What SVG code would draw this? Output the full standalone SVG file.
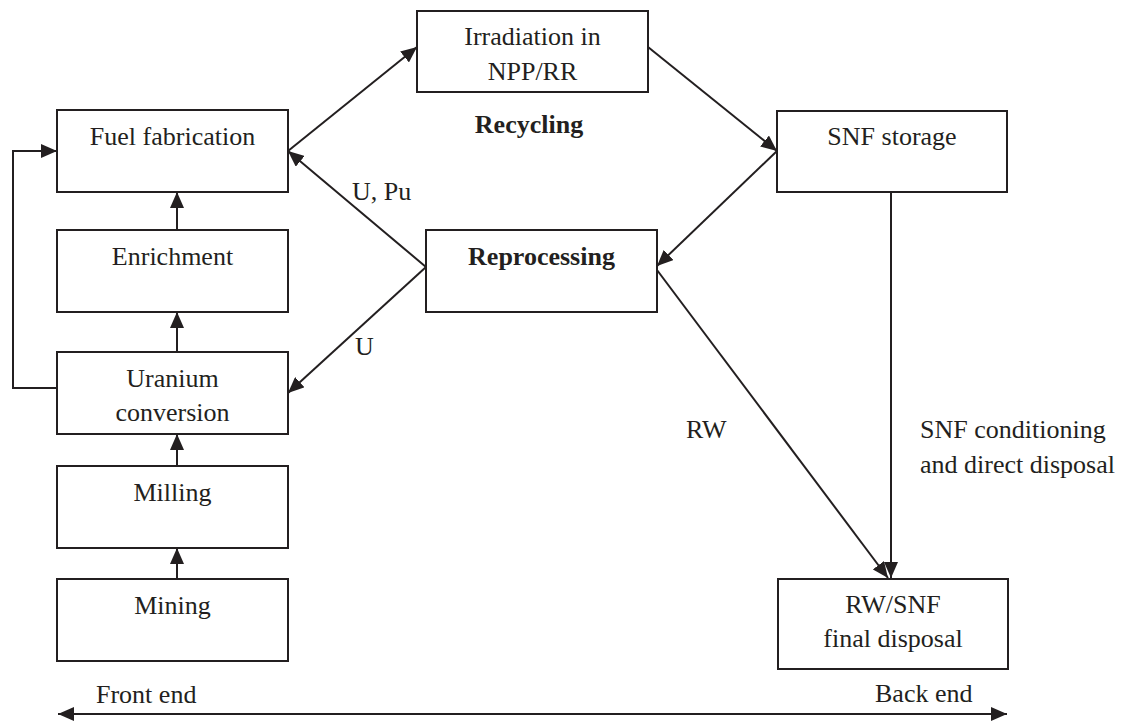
<svg xmlns="http://www.w3.org/2000/svg" width="1121" height="722" viewBox="0 0 1121 722">
<style>
.box{fill:#fff;stroke:#231f20;stroke-width:2}
.t{font-family:"Liberation Serif","Times New Roman",serif;font-size:26px;fill:#231f20;text-anchor:middle}
.b{font-weight:bold}
.l{text-anchor:start}
.c{fill:none;stroke:#231f20;stroke-width:2}
</style>
<defs>
<marker id="ah" viewBox="0 0 16 14" refX="16" refY="7" markerWidth="16" markerHeight="14" markerUnits="userSpaceOnUse" orient="auto-start-reverse">
<path d="M0,0 L16,7 L0,14 Z" fill="#231f20"/>
</marker>
</defs>
<rect width="1121" height="722" fill="#fff"/>
<g id="connectors">
<line class="c" x1="288" y1="151" x2="417" y2="47" marker-end="url(#ah)"/>
<line class="c" x1="648" y1="47" x2="777" y2="151" marker-end="url(#ah)"/>
<line class="c" x1="777" y1="151" x2="657" y2="266" marker-end="url(#ah)"/>
<line class="c" x1="426" y1="267" x2="288" y2="151" marker-end="url(#ah)"/>
<line class="c" x1="426" y1="267" x2="288" y2="393" marker-end="url(#ah)"/>
<line class="c" x1="657" y1="270" x2="888" y2="578" marker-end="url(#ah)"/>
<line class="c" x1="891" y1="192" x2="891" y2="578" marker-end="url(#ah)"/>
<line class="c" x1="177" y1="230" x2="177" y2="192" marker-end="url(#ah)"/>
<line class="c" x1="177" y1="352" x2="177" y2="312" marker-end="url(#ah)"/>
<line class="c" x1="177" y1="466" x2="177" y2="434" marker-end="url(#ah)"/>
<line class="c" x1="177" y1="579" x2="177" y2="548" marker-end="url(#ah)"/>
<polyline class="c" points="57,388 13,388 13,151 57,151" marker-end="url(#ah)"/>
<line class="c" x1="58" y1="714" x2="1007" y2="714" marker-start="url(#ah)" marker-end="url(#ah)"/>
<text class="t l" x="352" y="200">U, Pu</text>
<text class="t l" x="355" y="355">U</text>
<text class="t l" x="686" y="438">RW</text>
<text class="t l" x="920" y="438">SNF conditioning</text>
<text class="t l" x="920" y="473">and direct disposal</text>
<text class="t b" x="529" y="133">Recycling</text>
<text class="t l" x="96" y="703">Front end</text>
<text class="t l" x="875" y="702">Back end</text>
</g>
<g id="fuel-fabrication"><rect class="box" x="57" y="110" width="231" height="82"/><text class="t" x="172.5" y="145">Fuel fabrication</text></g>
<g id="enrichment"><rect class="box" x="57" y="230" width="231" height="82"/><text class="t" x="172.5" y="265">Enrichment</text></g>
<g id="uranium-conversion"><rect class="box" x="57" y="352" width="231" height="82"/><text class="t" x="172.5" y="387">Uranium</text><text class="t" x="172.5" y="421">conversion</text></g>
<g id="milling"><rect class="box" x="57" y="466" width="231" height="82"/><text class="t" x="172.5" y="501">Milling</text></g>
<g id="mining"><rect class="box" x="57" y="579" width="231" height="82"/><text class="t" x="172.5" y="614">Mining</text></g>
<g id="irradiation"><rect class="box" x="417" y="11" width="231" height="81"/><text class="t" x="532.5" y="45">Irradiation in</text><text class="t" x="532.5" y="80">NPP/RR</text></g>
<g id="reprocessing"><rect class="box" x="426" y="230" width="231" height="82"/><text class="t b" x="541.5" y="265">Reprocessing</text></g>
<g id="snf-storage"><rect class="box" x="777" y="111" width="230" height="81"/><text class="t" x="892" y="145">SNF storage</text></g>
<g id="final-disposal"><rect class="box" x="778" y="579" width="230" height="90"/><text class="t" x="893" y="613">RW/SNF</text><text class="t" x="893" y="647">final disposal</text></g>
</svg>
